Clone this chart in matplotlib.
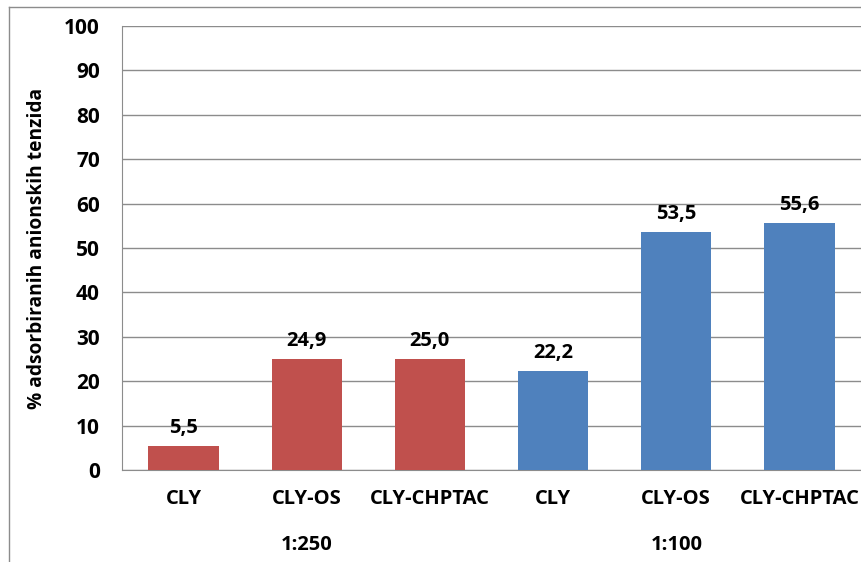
import numpy as np
import matplotlib.pyplot as plt
from matplotlib.lines import Line2D

plt.rcParams['font.family'] = ['Open Sans', 'DejaVu Sans']
plt.rcParams['font.weight'] = 'bold'

# podaci
categories = ['CLY', 'CLY-OS', 'CLY-CHPTAC', 'CLY', 'CLY-OS', 'CLY-CHPTAC']
values = [5.5, 24.9, 25.0, 22.2, 53.5, 55.6]
value_labels = ['5,5', '24,9', '25,0', '22,2', '53,5', '55,6']
groups = ['1:250', '1:100']
group_pos = [1, 4]
colors = ['#C0504D'] * 3 + ['#4F81BD'] * 3

fig = plt.figure(figsize=(8.61, 5.62), dpi=100)
ax = fig.add_axes([122 / 861, 1 - 470 / 562, (861 - 122) / 861, (470 - 26) / 562])

x = np.arange(len(categories))
ax.bar(x, values, width=0.57, color=colors, zorder=3)
for xi, v, lab in zip(x, values, value_labels):
    ax.text(xi, v + 1.8, lab, ha='center', va='bottom', fontsize=14.5, fontweight='bold')

ax.set_xlim(-0.5, len(categories) - 0.5)
ax.set_ylim(0, 100)
ax.set_yticks(np.arange(0, 101, 10))
ax.yaxis.grid(True, color='#8C8C8C', linewidth=1, zorder=0)
ax.tick_params(axis='y', length=0, pad=16, labelsize=15)
ax.tick_params(axis='x', length=0, pad=14, labelsize=14.5)
ax.set_xticks(x)
ax.set_xticklabels(categories)
for s in ['top', 'right']:
    ax.spines[s].set_visible(False)
for s in ['left', 'bottom']:
    ax.spines[s].set_color('#8C8C8C')

for gp, g in zip(group_pos, groups):
    ax.text(gp, -17.0, g, ha='center', va='center', fontsize=14.5, fontweight='bold')

ax.set_ylabel('% adsorbiranih anionskih tenzida', fontsize=13.8, fontweight='bold')
ax.yaxis.set_label_coords(-0.101, 0.5)

# okvir grafikona
fx = 8.5 / 861
fy = 1 - 6.5 / 562
fig.add_artist(Line2D([fx, fx], [0, fy], transform=fig.transFigure, color='#8C8C8C', linewidth=1))
fig.add_artist(Line2D([fx, 1], [fy, fy], transform=fig.transFigure, color='#8C8C8C', linewidth=1))

fig.savefig('out.png', dpi=100)
